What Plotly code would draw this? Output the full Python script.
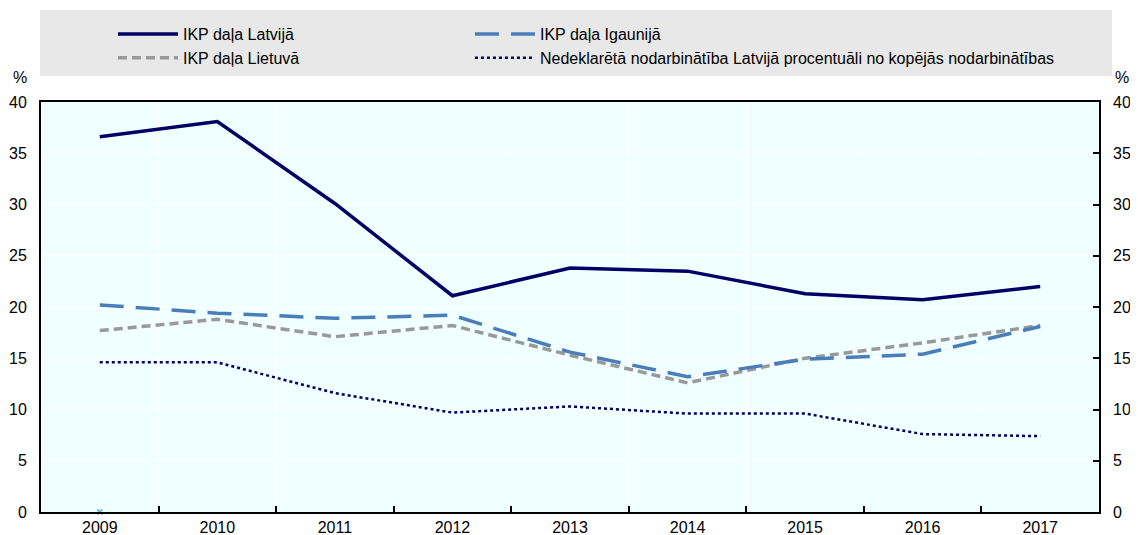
import plotly.graph_objects as go

years = ["2009", "2010", "2011", "2012", "2013", "2014", "2015", "2016", "2017"]
latvia = [36.6, 38.1, 30.1, 21.1, 23.8, 23.5, 21.3, 20.7, 22.0]
estonia = [20.2, 19.4, 18.9, 19.2, 15.6, 13.2, 14.9, 15.4, 18.1]
lithuania = [17.7, 18.8, 17.1, 18.2, 15.3, 12.6, 15.0, 16.5, 18.2]
undeclared = [14.6, 14.6, 11.6, 9.7, 10.3, 9.6, 9.6, 7.6, 7.4]
marker_x = ["2009"]
marker_y = [0]

names = ["IKP daļa Latvijā", "IKP daļa Igaunijā", "IKP daļa Lietuvā",
         "Nedeklarētā nodarbinātība Latvijā procentuāli no kopējās nodarbinātības"]

FONT = "Liberation Sans, Arial, sans-serif"

fig = go.Figure()
fig.add_trace(go.Scatter(x=years, y=latvia, name=names[0], mode="lines",
                         line=dict(color="#000066", width=3.5), legend="legend"))
fig.add_trace(go.Scatter(x=years, y=lithuania, name=names[2], mode="lines",
                         line=dict(color="#999999", width=3.5, dash="9px,5px"), legend="legend"))
fig.add_trace(go.Scatter(x=years, y=estonia, name=names[1], mode="lines",
                         line=dict(color="#4a7ebb", width=3.5, dash="24px,12px"), legend="legend2"))
fig.add_trace(go.Scatter(x=years, y=undeclared, name=names[3], mode="lines",
                         line=dict(color="#000066", width=2.5, dash="dot"), legend="legend2"))
fig.add_trace(go.Scatter(x=marker_x, y=marker_y, mode="markers", showlegend=False,
                         marker=dict(symbol="x-thin", size=5, line=dict(color="#4bacc6", width=1.5)),
                         cliponaxis=False, hoverinfo="skip"))
# invisible trace to activate right axis
fig.add_trace(go.Scatter(x=years, y=latvia, yaxis="y2", mode="lines", showlegend=False,
                         line=dict(width=0), opacity=0, hoverinfo="skip"))

# The page places the figure at an 8px body margin, so the figure is sized
# to fit the 1138x535 window.
fig.update_layout(
    width=1130, height=527,
    margin=dict(l=33, r=39, t=94, b=23, autoexpand=False),
    paper_bgcolor="white",
    plot_bgcolor="#f0ffff",
    font=dict(family=FONT, size=16, color="#000000"),
    xaxis=dict(type="category", range=[-0.5, 8.5], tickson="boundaries", automargin=False,
               showgrid=True, gridcolor="white", gridwidth=1,
               showline=True, linecolor="black", linewidth=2, mirror=True,
               ticks="inside", ticklen=6, tickcolor="black", tickwidth=1.5,
               tickfont=dict(size=16)),
    yaxis=dict(range=[0, 40], dtick=5, showgrid=True, gridcolor="white", gridwidth=1,
               showline=True, linecolor="black", linewidth=2, mirror=True, automargin=False,
               ticks="", ticklabelstandoff=9, zeroline=False, tickfont=dict(size=16)),
    yaxis2=dict(range=[0, 40], dtick=5, overlaying="y", side="right", showgrid=False,
                showline=False, ticks="inside", ticklen=6, tickcolor="black", tickwidth=1.5,
                automargin=False, ticklabelstandoff=13, zeroline=False, tickfont=dict(size=16)),
    legend=dict(xref="container", yref="container", x=0.0929, y=0.9829,
                xanchor="left", yanchor="top", bgcolor="rgba(0,0,0,0)",
                font=dict(size=16), tracegroupgap=0, itemwidth=60),
    legend2=dict(xref="container", yref="container", x=0.4088, y=0.9829,
                 xanchor="left", yanchor="top", bgcolor="rgba(0,0,0,0)",
                 font=dict(size=16), tracegroupgap=0, itemwidth=60),
    shapes=[dict(type="rect", xref="paper", yref="paper", x0=-0.001, x1=1.0123,
                 y0=1.0634, y1=1.2244, fillcolor="#e8e8e8", line=dict(width=0), layer="below")],
    annotations=[
        dict(text="%", xref="paper", yref="paper", x=-0.02, y=1.06, showarrow=False,
             xanchor="center", yanchor="middle", font=dict(size=16)),
        dict(text="%", xref="paper", yref="paper", x=1.022, y=1.06, showarrow=False,
             xanchor="center", yanchor="middle", font=dict(size=16)),
    ],
)

fig.write_html("out.html")
